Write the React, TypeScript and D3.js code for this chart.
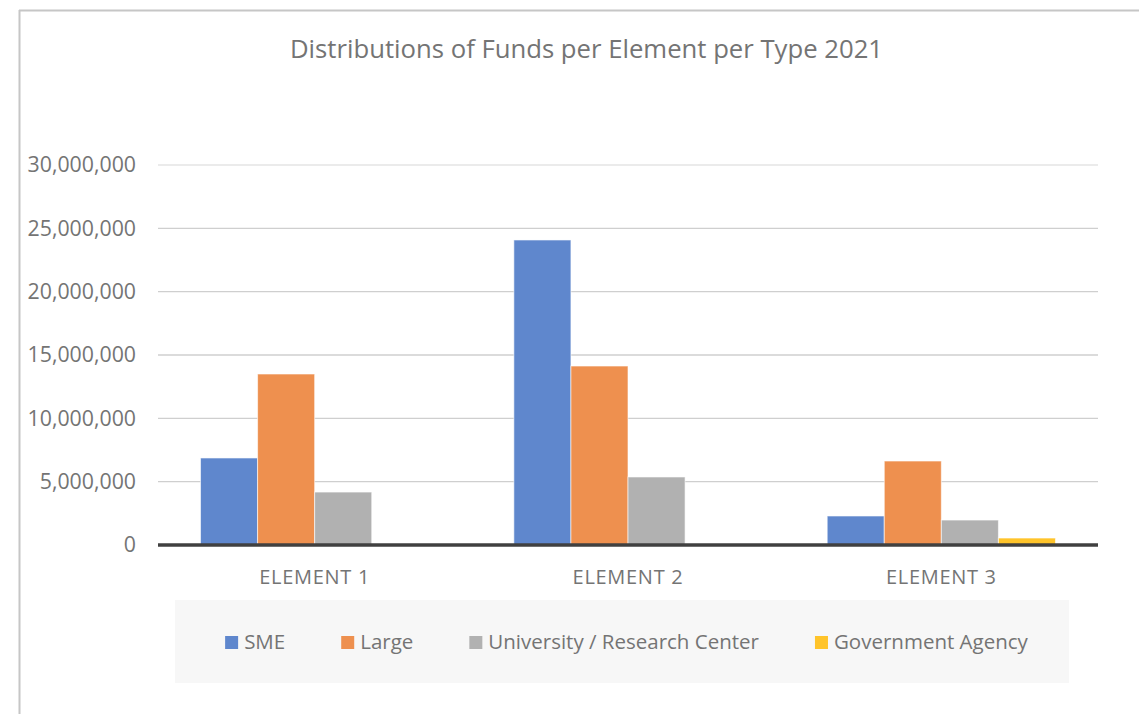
import React, { useRef, useEffect } from 'react'
import * as d3 from 'd3'

const categories = ['ELEMENT 1', 'ELEMENT 2', 'ELEMENT 3']
const seriesNames = ['SME', 'Large', 'University / Research Center', 'Government Agency']
const smeValues = [6870000, 24080000, 2290000]
const largeValues = [13500000, 14130000, 6630000]
const universityValues = [4180000, 5370000, 1970000]
const governmentValues = [0, 0, 550000]
const yTicks = [0, 5000000, 10000000, 15000000, 20000000, 25000000, 30000000]
const colors = ['#5f87cd', '#ee904f', '#b1b1b1', '#ffc42a']

const W = 1139
const H = 714
const margin = { top: 165, right: 41, bottom: 169, left: 158 }
const font = "'Open Sans', 'Noto Sans', sans-serif"
const textColor = '#747474'

export default function App() {
  const legendRef = useRef<SVGGElement>(null)
  const series = [smeValues, largeValues, universityValues, governmentValues]

  const x0 = d3
    .scaleBand()
    .domain(categories)
    .range([margin.left, W - margin.right])
  const x1 = d3
    .scaleBand()
    .domain(seriesNames)
    .range([0, x0.bandwidth()])
    .paddingOuter(0.745)
  const y = d3
    .scaleLinear()
    .domain([0, 30000000])
    .range([H - margin.bottom, margin.top])
  const fmt = d3.format(',')

  // legend laid out after measuring the text
  useEffect(() => {
    const g = d3.select(legendRef.current)
    g.selectAll('*').remove()
    const items = g
      .selectAll('g.item')
      .data(seriesNames)
      .join('g')
      .attr('class', 'item')
    items
      .append('rect')
      .attr('width', 13)
      .attr('height', 13)
      .attr('y', -6)
      .attr('fill', (d, i) => colors[i])
    items
      .append('text')
      .attr('x', 19)
      .attr('dy', '0.35em')
      .attr('fill', textColor)
      .style('font-family', font)
      .style('font-size', '20.5px')
      .text(d => d)
    const widths: number[] = []
    items.each(function() {
      const t = (this as SVGGElement).querySelector('text') as SVGTextElement
      widths.push(19 + t.getComputedTextLength())
    })
    const gap = 56
    const total = d3.sum(widths) + gap * (widths.length - 1)
    let cur = 626.5 - total / 2
    items.attr('transform', (d, i) => {
      const tx = cur
      cur += widths[i] + gap
      return `translate(${tx},642)`
    })
  }, [])

  return (
    <div style={{ position: 'fixed', left: 0, top: 0 }}>
      <svg width={W} height={H} style={{ display: 'block', background: '#fff' }}>
        <line x1={19.5} y1={10} x2={19.5} y2={H} stroke="#c6c6c6" strokeWidth={2} />
        <line x1={19} y1={10.5} x2={W} y2={10.5} stroke="#c6c6c6" strokeWidth={2} />
        <text
          x={586.5}
          y={58}
          textAnchor="middle"
          fill={textColor}
          style={{ fontFamily: font, fontSize: '25.7px' }}
        >
          Distributions of Funds per Element per Type 2021
        </text>
        {yTicks.map((t, i) => (
          <g key={t}>
            {t > 0 && (
              <line
                x1={margin.left}
                x2={W - margin.right}
                y1={y(t)}
                y2={y(t)}
                stroke={i === yTicks.length - 1 ? '#e4e4e4' : '#cfcfcf'}
                strokeWidth={1.3}
              />
            )}
            <text
              x={136}
              y={y(t)}
              dy="0.35em"
              textAnchor="end"
              fill={textColor}
              style={{ fontFamily: font, fontSize: '21.3px' }}
            >
              {fmt(t)}
            </text>
          </g>
        ))}
        {categories.map((c, ci) => (
          <g key={c} transform={`translate(${x0(c)},0)`}>
            {series.map((vals, si) =>
              vals[ci] > 0 ? (
                <rect
                  key={si}
                  x={x1(seriesNames[si])}
                  y={y(vals[ci])}
                  width={x1.bandwidth()}
                  height={y(0) - y(vals[ci])}
                  fill={colors[si]}
                  stroke="#ffffff"
                  strokeOpacity={0.6}
                  strokeWidth={1}
                />
              ) : null
            )}
            <text
              x={x0.bandwidth() / 2}
              y={577}
              dy="0.35em"
              textAnchor="middle"
              fill={textColor}
              style={{ fontFamily: font, fontSize: '20px', letterSpacing: '0.7px' }}
            >
              {c}
            </text>
          </g>
        ))}
        <line
          x1={margin.left}
          x2={W - margin.right}
          y1={y(0)}
          y2={y(0)}
          stroke="#404040"
          strokeWidth={3.5}
        />
        <rect x={175} y={600} width={894} height={83} fill="#f7f7f7" />
        <g ref={legendRef} />
      </svg>
    </div>
  )
}
